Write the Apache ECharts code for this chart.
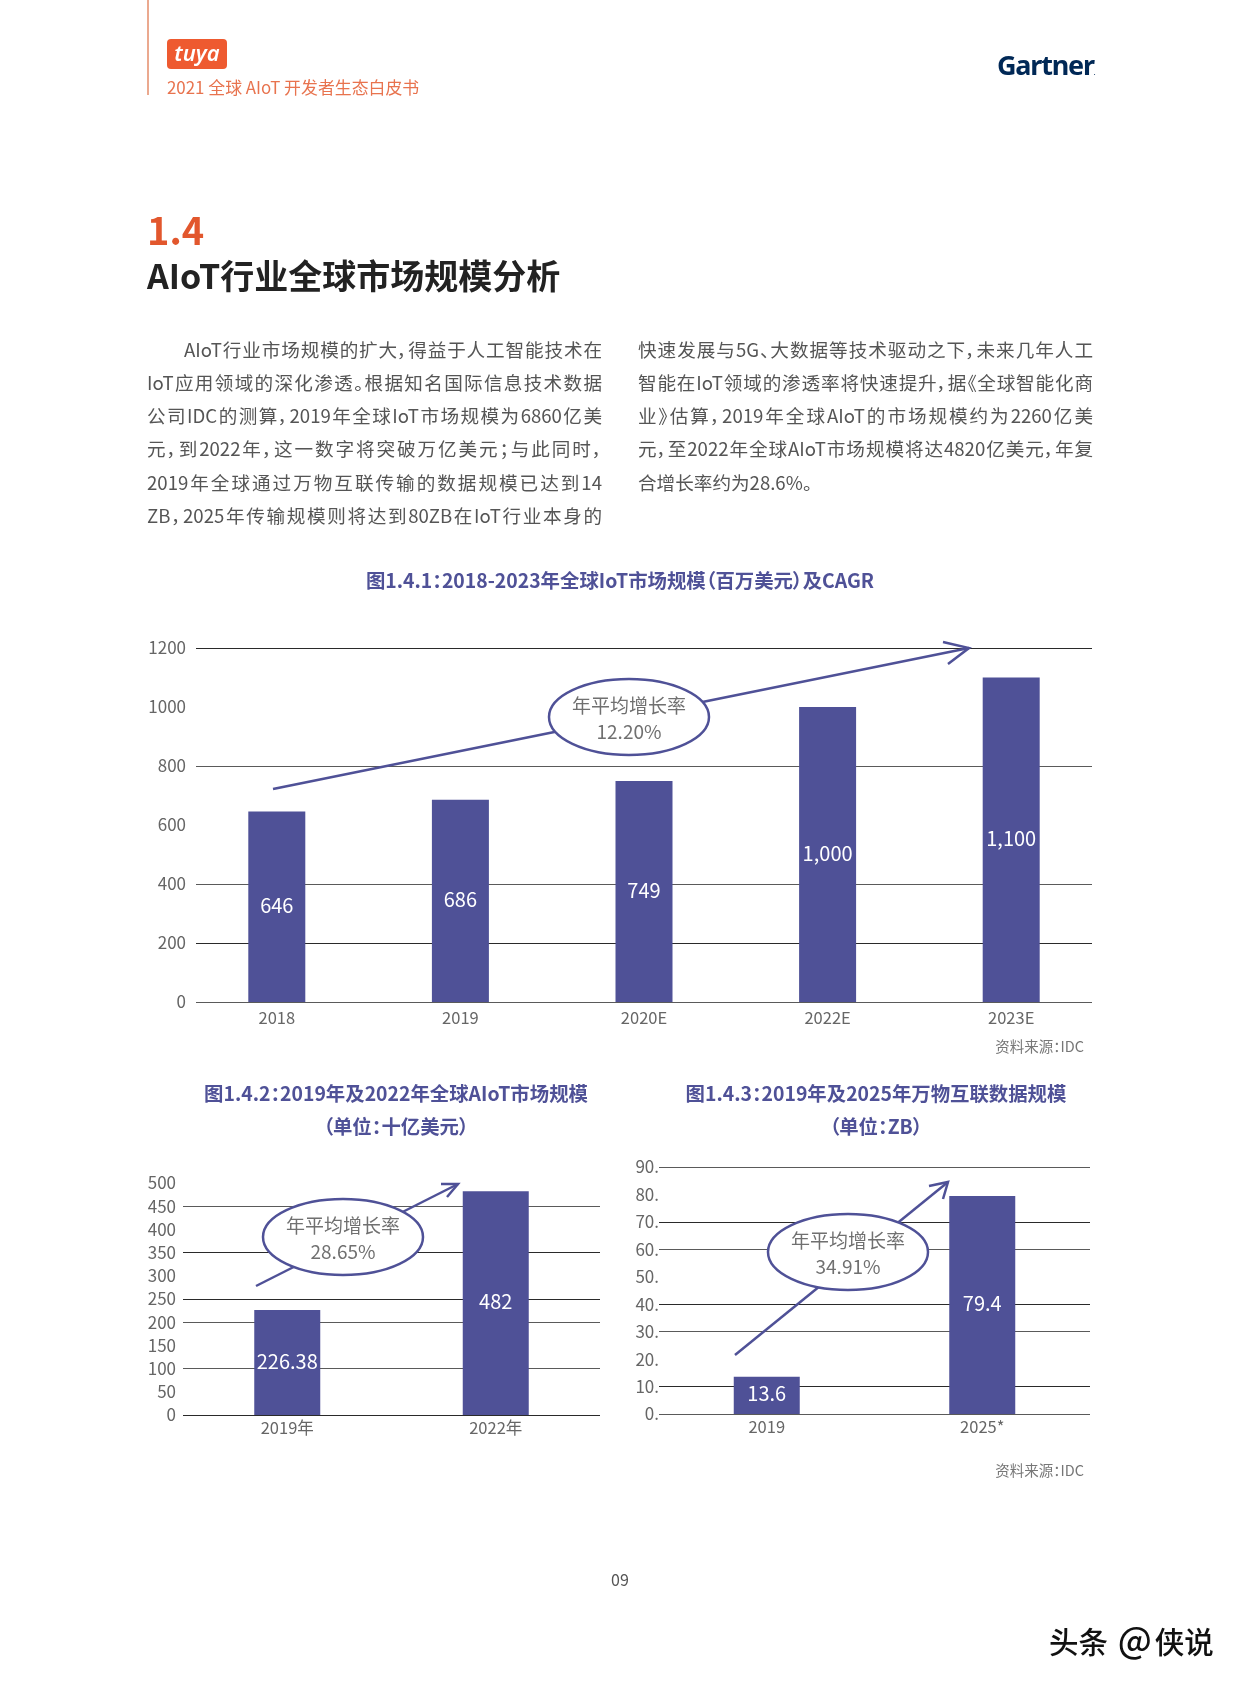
<!DOCTYPE html>
<html lang="zh">
<head>
<meta charset="utf-8">
<title>2021 全球 AIoT 开发者生态白皮书</title>
<script src="https://cdn.jsdelivr.net/npm/echarts@6/dist/echarts.min.js"></script>
<style>
  html, body { margin: 0; padding: 0; background: #fff; }
  #page { position: relative; width: 1241px; height: 1684px; overflow: hidden;
    font-family: "Noto Sans CJK SC", "Noto Sans", sans-serif; font-feature-settings: "palt"; }
  #chart { position: absolute; left: 0; top: 0; width: 1241px; height: 1684px; }
  .t { position: absolute; white-space: nowrap; }
  .title { color: #4f5197; font-weight: 700; font-size: 19.4px; line-height: 33px; text-align: center; }
  .source { color: #777; font-size: 14.5px; line-height: 20px; right: 157px; }
  .line { position: absolute; width: 455px; color: #555; font-size: 18.6px; line-height: 32px;
    text-align: justify; text-align-last: justify; text-justify: inter-character; white-space: normal; }
</style>
</head>
<body>
<div id="page">
  <div id="chart"></div>

  <div style="position:absolute;left:147px;top:0;width:1.5px;height:95px;background:#eba98f"></div>
  <div class="t" style="left:167px;top:39px;width:60px;height:30px;border-radius:4px;background:#ee5a30;color:#fff;font:italic 600 22px/27px 'Noto Sans',sans-serif;text-align:center">tuya</div>
  <div class="t" style="left:167px;top:75px;color:#e8734e;font-size:16.9px;line-height:24px">2021 全球 AIoT 开发者生态白皮书</div>
  <div class="t" style="left:997px;top:48px;color:#002856;font:700 27px/34px 'Noto Sans',sans-serif;letter-spacing:-1.2px">Gartner<span style="font-size:6px;letter-spacing:0">.</span></div>

  <div class="t" style="left:147px;top:204px;color:#e2572d;font-size:38px;line-height:50px;font-weight:700">1.4</div>
  <div class="t" style="left:147px;top:251px;color:#222;font-size:34px;line-height:48px;font-weight:700">AIoT行业全球市场规模分析</div>

  <div class="line" style="left:184px;top:332.6px;width:418px">AIoT行业市场规模的扩大，得益于人工智能技术在</div>
  <div class="line" style="left:147px;top:365.8px">IoT应用领域的深化渗透。根据知名国际信息技术数据</div>
  <div class="line" style="left:147px;top:399.1px">公司IDC的测算，2019年全球IoT市场规模为6860亿美</div>
  <div class="line" style="left:147px;top:432.3px">元，到2022年，这一数字将突破万亿美元；与此同时，</div>
  <div class="line" style="left:147px;top:465.6px">2019年全球通过万物互联传输的数据规模已达到14</div>
  <div class="line" style="left:147px;top:498.8px">ZB，2025年传输规模则将达到80ZB在IoT行业本身的</div>
  <div class="line" style="left:638px;top:332.6px">快速发展与5G、大数据等技术驱动之下，未来几年人工</div>
  <div class="line" style="left:638px;top:365.8px">智能在IoT领域的渗透率将快速提升，据《全球智能化商</div>
  <div class="line" style="left:638px;top:399.1px">业》估算，2019年全球AIoT的市场规模约为2260亿美</div>
  <div class="line" style="left:638px;top:432.3px">元，至2022年全球AIoT市场规模将达4820亿美元，年复</div>
  <div class="line" style="left:638px;top:465.6px;text-align:left;text-align-last:left">合增长率约为28.6%。</div>

  <div class="t title" style="left:120px;width:1000px;top:563px">图1.4.1：2018-2023年全球IoT市场规模（百万美元）及CAGR</div>
  <div class="t title" style="left:146px;width:500px;top:1076px">图1.4.2：2019年及2022年全球AIoT市场规模<br>（单位：十亿美元）</div>
  <div class="t title" style="left:626px;width:500px;top:1076px">图1.4.3：2019年及2025年万物互联数据规模<br>（单位：ZB）</div>

  <div class="t source" style="top:1036px">资料来源：IDC</div>
  <div class="t source" style="top:1460px">资料来源：IDC</div>

  <div class="t" style="left:0;width:1240px;top:1567px;color:#555;font-size:16px;line-height:24px;text-align:center">09</div>
  <div class="t" style="left:1049px;top:1620px;color:#111;font-size:29.5px;line-height:40px;font-weight:500">头条 <span style="font-size:35px;line-height:30px;margin:0 3px">@</span>侠说</div>
</div>

<script>
const BAR = "#4f5197";
const DARK = "#2a2a2a";
const SOFT = "#5a5a5a";
const HIDE = "transparent";
const FONT = '"Noto Sans CJK SC", "Noto Sans", sans-serif';

const charts = [
  {
    left: 185, width: 918, top: 648, height: 354, barWidth: 57,
    lineLeft: 196, lineWidth: 896,
    max: 1200, interval: 200, tickSize: 17, labelMargin: 10, xMargin: 7,
    categories: ["2018", "2019", "2020E", "2022E", "2023E"],
    values: [646, 686, 749, 1000, 1100],
    lines: [SOFT, DARK, SOFT, HIDE, SOFT, HIDE, DARK],
    rate: "12.20%",
    arrow: { from: [273, 789], to: [969, 648], arms: [[943, 642], [948, 664]] },
    bubble: [629, 717],
  },
  {
    left: 183, width: 417, top: 1183, height: 232, barWidth: 66,
    max: 500, interval: 50, tickSize: 17, labelMargin: 7, xMargin: 4,
    categories: ["2019年", "2022年"],
    values: [226.38, 482],
    lines: [DARK, HIDE, SOFT, HIDE, SOFT, DARK, HIDE, DARK, HIDE, SOFT, HIDE],
    rate: "28.65%",
    arrow: { from: [256, 1286], to: [458, 1184], arms: [[441, 1184], [447, 1197]] },
    bubble: [343, 1237],
  },
  {
    left: 659, width: 431, top: 1167, height: 247, barWidth: 66,
    max: 90, interval: 10, tickSize: 17, labelMargin: 0, xMargin: 4, tickDot: true,
    categories: ["2019", "2025*"],
    values: [13.6, 79.4],
    lines: [SOFT, DARK, HIDE, SOFT, DARK, HIDE, SOFT, DARK, HIDE, SOFT],
    rate: "34.91%",
    arrow: { from: [735, 1355], to: [948, 1182], arms: [[929, 1186], [943, 1199]] },
    bubble: [848, 1252],
  },
];

function buildOption() {
  const option = { animation: false, textStyle: { fontFamily: FONT }, grid: [], xAxis: [], yAxis: [], series: [], graphic: { elements: [] } };

  charts.forEach((c) => {
    // the rules of chart 1 run shorter than its category bands, so rules and bars get their own grid
    const rulesGrid = option.grid.length;
    option.grid.push({ left: c.lineLeft ?? c.left, width: c.lineWidth ?? c.width, top: c.top, height: c.height });
    option.xAxis.push({ gridIndex: rulesGrid, type: "category", data: c.categories, show: false });
    option.yAxis.push({
      gridIndex: rulesGrid,
      type: "value",
      min: 0,
      max: c.max,
      interval: c.interval,
      axisLine: { show: false },
      axisTick: { show: false },
      axisLabel: {
        color: "#666",
        fontSize: c.tickSize,
        margin: c.labelMargin,
        formatter: (value) => (c.tickDot ? `${value}.` : `${value}`),
      },
      splitLine: { show: true, lineStyle: { color: c.lines, width: 1 } },
    });

    const barsGrid = option.grid.length;
    option.grid.push({ left: c.left, width: c.width, top: c.top, height: c.height });
    option.xAxis.push({
      gridIndex: barsGrid,
      type: "category",
      data: c.categories,
      axisLine: { show: false },
      axisTick: { show: false },
      axisLabel: { color: "#666", fontSize: 16.5, margin: c.xMargin },
    });
    option.yAxis.push({ gridIndex: barsGrid, type: "value", min: 0, max: c.max, show: false });
    option.series.push({
      type: "bar",
      xAxisIndex: barsGrid,
      yAxisIndex: barsGrid,
      data: c.values,
      barWidth: c.barWidth,
      itemStyle: { color: BAR },
      label: {
        show: true,
        position: "inside",
        offset: [0, -1.5],
        color: "#fff",
        fontSize: 20,
        formatter: (p) => (p.value >= 1000 ? p.value.toLocaleString("en-US") : `${p.value}`),
      },
    });

    const [cx, cy] = c.bubble;
    const stroke = { stroke: BAR, lineWidth: 2.5, fill: "none" };
    option.graphic.elements.push(
      { type: "line", z: 10, shape: { x1: c.arrow.from[0], y1: c.arrow.from[1], x2: c.arrow.to[0], y2: c.arrow.to[1] }, style: stroke },
      { type: "polyline", z: 10, shape: { points: [c.arrow.arms[0], c.arrow.to, c.arrow.arms[1]] }, style: stroke },
      { type: "ellipse", z: 11, shape: { cx, cy, rx: 80, ry: 38 }, style: { stroke: BAR, lineWidth: 2.5, fill: "#fff" } },
      { type: "text", z: 12, x: cx, y: cy - 11, style: { text: "年平均增长率", fill: "#707070", font: `19px ${FONT}`, align: "center", verticalAlign: "middle" } },
      { type: "text", z: 12, x: cx, y: cy + 15, style: { text: c.rate, fill: "#707070", font: `19px ${FONT}`, align: "center", verticalAlign: "middle" } }
    );
  });

  return option;
}

const chart = echarts.init(document.getElementById("chart"));
chart.setOption(buildOption());
</script>
</body>
</html>
